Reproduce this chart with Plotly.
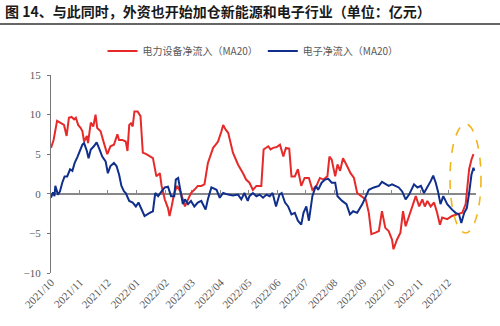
import plotly.graph_objects as go
import pandas as pd

# time in months since 2021/10/01
red_t = [0.00,0.09,0.21,0.33,0.45,0.54,0.62,0.71,0.80,0.86,0.94,1.03,1.09,1.15,1.25,1.29,1.39,1.48,1.56,1.62,
         1.74,1.86,1.98,2.09,2.21,2.33,2.39,2.50,2.62,2.68,2.74,2.80,2.86,2.92,3.03,3.13,3.21,3.33,3.45,3.56,
         3.68,3.80,3.86,3.97,4.09,4.15,4.23,4.33,4.44,4.56,4.66,4.74,4.86,4.97,5.09,5.21,5.33,5.44,5.56,5.64,
         5.74,5.83,5.91,6.03,6.09,6.18,6.27,6.44,6.62,6.80,6.91,7.03,7.15,7.27,7.44,7.52,7.68,7.76,7.85,7.97,
         8.09,8.21,8.30,8.42,8.50,8.62,8.73,8.85,8.97,9.12,9.24,9.38,9.50,9.62,9.76,9.83,9.91,10.03,10.11,10.20,
         10.30,10.44,10.56,10.68,10.79,10.93,11.09,11.20,11.29,11.44,11.56,11.67,11.79,11.91,12.03,12.08,12.20,12.32,12.41,12.50,
         12.62,12.73,12.85,12.97,13.08,13.17,13.26,13.38,13.50,13.61,13.71,13.79,13.97,14.14,14.32,14.49,14.61,14.73,14.81,14.88]
red_v = [5.8,6.8,9.2,9.0,8.7,7.3,9.6,9.7,9.4,9.6,8.7,8.3,7.9,6.6,7.3,6.4,9.0,8.5,10.0,8.3,
         7.9,6.4,5.0,6.0,6.2,7.5,6.8,6.8,6.6,5.4,8.7,8.9,8.5,10.4,10.4,9.8,5.2,5.0,4.7,4.5,
         2.2,2.6,1.0,-0.7,-1.8,-2.8,-1.6,0.1,1.0,0.3,-0.7,-1.6,-0.7,0.1,0.5,1.0,1.0,1.2,3.9,4.7,
         5.8,6.2,6.6,7.9,8.7,8.1,7.7,5.2,3.7,2.6,1.8,1.4,0.5,1.0,1.0,5.6,6.0,5.6,5.8,5.9,
         6.2,4.7,5.8,5.7,2.2,2.2,3.1,1.0,2.0,2.0,0.5,1.0,2.0,1.8,2.2,4.7,4.3,2.2,3.7,2.9,
         4.5,3.5,2.6,2.0,0.1,-0.3,-0.7,-2.4,-5.1,-4.9,-4.7,-2.2,-4.3,-4.7,-5.8,-7.0,-5.8,-4.9,-2.2,-4.1,
         -2.8,-1.6,-0.3,-1.6,-0.7,-1.6,-0.9,-1.6,-1.1,-2.4,-3.9,-3.0,-3.2,-2.8,-2.6,-2.4,-1.3,3.1,4.3,5.0]

blue_t = [0.00,0.07,0.12,0.15,0.24,0.31,0.39,0.47,0.56,0.66,0.74,0.82,0.92,1.01,1.09,1.15,1.25,1.31,1.39,1.50,
          1.60,1.68,1.80,1.92,2.00,2.09,2.21,2.30,2.39,2.47,2.56,2.62,2.74,2.86,2.97,3.06,3.15,3.27,3.45,3.56,
          3.64,3.74,3.86,3.97,4.09,4.21,4.33,4.39,4.48,4.56,4.66,4.74,4.86,4.97,5.09,5.21,5.33,5.48,5.56,5.68,
          5.86,5.97,6.09,6.27,6.44,6.62,6.74,6.85,6.97,7.03,7.15,7.27,7.38,7.50,7.62,7.73,7.83,7.95,8.07,8.15,
          8.27,8.38,8.50,8.62,8.73,8.85,8.93,9.03,9.12,9.24,9.36,9.44,9.56,9.68,9.79,9.91,10.03,10.11,10.27,10.42,
          10.54,10.65,10.79,10.97,11.09,11.20,11.38,11.56,11.67,11.79,11.91,12.03,12.14,12.26,12.38,12.50,12.62,12.79,12.91,13.03,
          13.14,13.26,13.38,13.47,13.56,13.64,13.73,13.83,13.97,14.14,14.26,14.38,14.46,14.56,14.65,14.73,14.81,14.88,14.91]
blue_v = [-0.5,0.2,-0.3,1.0,-0.1,0.3,1.4,2.2,2.2,3.1,2.9,3.9,4.7,5.4,6.2,6.4,5.4,4.5,5.6,6.0,
          6.5,5.8,4.7,4.1,2.6,3.5,3.9,3.5,2.4,1.0,0.3,0.1,-0.9,-1.1,-1.6,-1.1,-1.8,-2.8,-2.4,-2.2,
          0.1,-0.3,0.3,0.8,0.9,-0.3,-0.3,1.8,2.0,0.3,-1.3,-0.7,-1.3,-0.9,-1.6,-1.1,-0.9,-2.0,-0.7,0.8,
          0.5,-0.5,0.1,-0.1,-0.2,-0.1,-0.7,0.1,-0.9,-0.3,0.1,-0.3,-0.1,-0.5,-0.1,-0.3,0.1,-1.6,-0.1,0.1,
          -1.1,-1.6,-2.6,-2.4,-3.4,-3.9,-2.4,-1.6,-3.4,-0.3,1.0,0.5,1.4,1.8,1.9,1.4,1.4,-0.3,-0.9,-1.3,
          -2.6,-2.2,-2.4,-1.3,-0.3,0.5,0.8,1.0,1.5,1.2,1.0,1.2,1.0,0.8,0.3,-0.7,-0.1,1.2,0.8,1.0,
          0.1,0.8,1.6,2.3,1.4,0.3,-1.3,-0.3,-1.3,-2.0,-2.4,-2.6,-3.7,-2.4,-1.8,0.1,2.4,3.3,2.9]

series_names = ["电力设备净流入（MA20）", "电子净流入（MA20）"]
series_colors = ["#E62A2A", "#102F8C"]
title_text = "图 14、与此同时，外资也开始加仓新能源和电子行业（单位：亿元）"

START = pd.Timestamp("2021-10-01")


def to_dates(ts):
    out = []
    for t in ts:
        m = int(t)
        ms = START + pd.DateOffset(months=m)
        me = START + pd.DateOffset(months=m + 1)
        out.append(ms + (me - ms) * (t - m))
    return out


red_x = to_dates(red_t)
blue_x = to_dates(blue_t)

W, H = 500, 326
L, R, T, B = 51, 24, 75, 53
pw, ph = W - L - R, H - T - B


def px_x(p):
    return (p - L) / pw


def px_y(p):
    return (H - B - p) / ph


grey = "#595959"
serif = "Liberation Serif, Times New Roman, serif"
cjk = "Noto Sans CJK SC, sans-serif"

fig = go.Figure()
fig.add_trace(go.Scatter(x=red_x, y=red_v, mode="lines", name=series_names[0],
                         line=dict(color=series_colors[0], width=2)))
fig.add_trace(go.Scatter(x=blue_x, y=blue_v, mode="lines", name=series_names[1],
                         line=dict(color=series_colors[1], width=2)))
# helper trace so the zero-line axis is drawn
fig.add_trace(go.Scatter(x=[red_x[0]], y=[0], xaxis="x2", mode="markers",
                         marker=dict(opacity=0), showlegend=False, hoverinfo="skip"))

xrange = [START, pd.Timestamp("2022-12-31")]
fig.update_layout(
    width=W, height=H, margin=dict(l=L, r=R, t=T, b=B),
    plot_bgcolor="white", paper_bgcolor="white",
    showlegend=True,
    legend=dict(orientation="h", x=px_x(253), xanchor="center", y=px_y(51), yanchor="middle",
                font=dict(family=cjk, size=10, color=grey), itemwidth=30,
                bgcolor="rgba(0,0,0,0)"),
    title=dict(text="<b>" + title_text + "</b>", x=5 / W, xanchor="left", xref="container",
               y=1 - 12 / H, yanchor="middle", yref="container",
               font=dict(family=cjk, size=14, color="#1a1a1a")),
    xaxis=dict(type="date", range=xrange, tick0="2021-10-01", dtick="M1", tickformat="%Y/%m",
               tickangle=-45, showgrid=False, zeroline=False, showline=False, ticks="",
               tickfont=dict(family=serif, size=11, color=grey)),
    xaxis2=dict(type="date", matches="x", overlaying="x", anchor="free", position=px_y(193.8),
                side="bottom", tick0="2021-10-01", dtick="M1", showticklabels=False,
                showline=True, linecolor="#888888", linewidth=1.5, ticks="inside", ticklen=3,
                tickcolor="#888888", showgrid=False, zeroline=False, layer="below traces"),
    yaxis=dict(range=[-10, 15], dtick=5, showgrid=False, zeroline=False, showline=True,
               linecolor="#777777", linewidth=1.2, ticks="outside", ticklen=3, tickcolor="#777777",
               ticklabelstandoff=4,
               tickfont=dict(family=serif, size=11, color=grey)),
)

# line under title
fig.add_shape(type="line", xref="paper", yref="paper", x0=px_x(0), x1=px_x(W),
              y0=px_y(24), y1=px_y(24), line=dict(color="#333333", width=1.5))
# dashed highlight ellipse
fig.add_shape(type="circle", xref="paper", yref="paper", x0=px_x(450), x1=px_x(481),
              y0=px_y(233), y1=px_y(124), line=dict(color="#F2B51C", width=1.6, dash="dash"))

fig.write_html("out.html")
